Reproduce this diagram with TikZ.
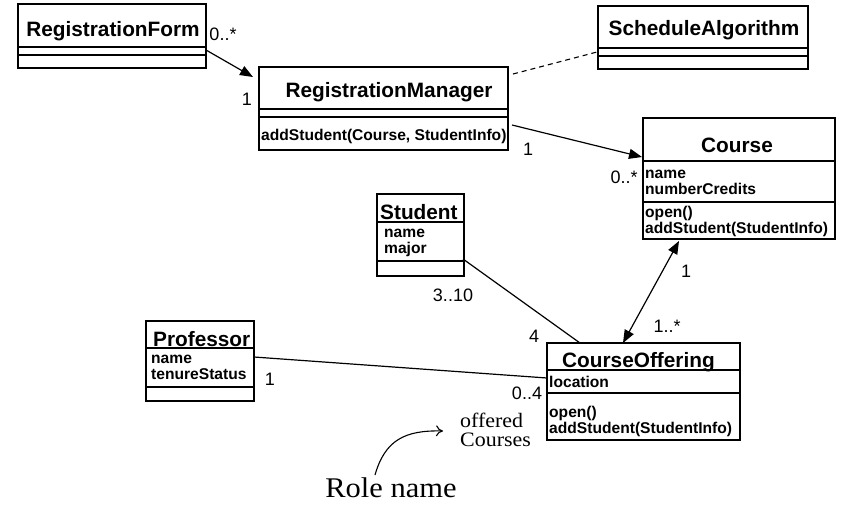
\documentclass[tikz,border=0pt]{standalone}
\usepackage{fontspec}
\setmainfont{Liberation Sans}
\newfontfamily\rmserif{Liberation Serif}
\usetikzlibrary{arrows.meta,calc}
\tikzset{
  cls/.style={draw, line width=1.4pt, inner sep=0pt, outer sep=0pt, anchor=north west},
  sep/.style={line width=1.3pt},
  clsname/.style={font=\fontsize{20.8}{24}\selectfont\bfseries, inner sep=0pt, anchor=base},
  member/.style={font=\fontsize{15.6}{17}\selectfont\bfseries, inner sep=0pt, anchor=base west},
  mult/.style={font=\fontsize{18}{20}\selectfont, inner sep=0pt, anchor=base},
  assoc/.style={line width=1.2pt},
  navarrow/.style={line width=1.2pt, -{Triangle[length=13pt,width=10pt]}},
  bothnav/.style={line width=1.2pt, {Triangle[length=13pt,width=10pt]}-{Triangle[length=13pt,width=10pt]}},
  depline/.style={line width=1.1pt, dash pattern=on 5pt off 4pt},
  serifnote/.style={font=\rmserif\fontsize{20.5}{21}\selectfont, inner sep=0pt, anchor=base west},
}
\begin{document}
\begin{tikzpicture}[x=1pt,y=-1pt]
\useasboundingbox (0,0) rectangle (845,504);

% RegistrationForm
\node[cls, minimum width=188pt, minimum height=64pt] (rf) at (18,4) {};
\draw[sep] (18,47) -- (206,47) (18,55) -- (206,55);
\node[clsname] (rfname) at (113,36) {RegistrationForm};

% RegistrationManager
\node[cls, minimum width=249pt, minimum height=83pt] (rm) at (259,67) {};
\draw[sep] (259,109) -- (508,109) (259,117) -- (508,117);
\node[clsname] (rmname) at (389,97) {RegistrationManager};
\node[member] (rmop) at (261,140) {addStudent(Course, StudentInfo)};

% ScheduleAlgorithm
\node[cls, minimum width=210pt, minimum height=63pt] (sa) at (598,6) {};
\draw[sep] (598,48) -- (808,48) (598,56) -- (808,56);
\node[clsname] (saname) at (704,35) {ScheduleAlgorithm};

% Course
\node[cls, minimum width=192pt, minimum height=121pt] (course) at (643,118) {};
\draw[sep] (643,161) -- (835,161) (643,202) -- (835,202);
\node[clsname] (coursename) at (737,152) {Course};
\node[member] (ca1) at (645,178) {name};
\node[member] (ca2) at (645,194) {numberCredits};
\node[member] (co1) at (645,217) {open()};
\node[member] (co2) at (645,233) {addStudent(StudentInfo)};

% Student
\node[cls, minimum width=87pt, minimum height=82pt] (student) at (377,194) {};
\draw[sep] (377,222) -- (464,222) (377,261) -- (464,261);
\node[clsname, anchor=base west] (studentname) at (380,219) {Student};
\node[member] (sa1) at (384,237) {name};
\node[member] (sa2) at (384,253) {major};

% Professor
\node[cls, minimum width=108pt, minimum height=80pt] (prof) at (146,321) {};
\draw[sep] (146,348) -- (254,348) (146,387) -- (254,387);
\node[clsname, anchor=base west] (profname) at (153,346) {Professor};
\node[member] (pa1) at (151,363) {name};
\node[member] (pa2) at (151,379) {tenureStatus};

% CourseOffering
\node[cls, minimum width=193pt, minimum height=97pt] (co) at (547,343) {};
\draw[sep] (547,370) -- (740,370) (547,393) -- (740,393);
\node[clsname, anchor=base west] (coname) at (562,367) {CourseOffering};
\node[member] (coa1) at (549,387) {location};
\node[member] (coo1) at (549,417) {open()};
\node[member] (coo2) at (549,433) {addStudent(StudentInfo)};

% connectors
\draw[navarrow] ($(rf.north east)+(0,46)$) -- ($(rm.north west)+(-6,10)$);
\draw[depline] ($(rm.north east)+(5,7)$) -- ($(sa.north west)+(-1,46)$);
\draw[navarrow] ($(rm.north east)+(4,58)$) -- ($(course.north west)+(-1,39)$);
\draw[assoc] ($(student.north east)+(-1,65)$) -- ($(co.north west)+(33,0)$);
\draw[bothnav] ($(course.south west)+(36,2)$) -- ($(co.north west)+(76,0)$);
\draw[assoc] ($(prof.north east)+(0,36)$) -- ($(co.north west)+(0,35)$);

% multiplicities
\node[mult] (m1) at (223,40) {0..*};
\node[mult] (m2) at (247,105) {1};
\node[mult] (m3) at (528,155) {1};
\node[mult] (m4) at (624,183) {0..*};
\node[mult] (m5) at (453,301) {3..10};
\node[mult] (m6) at (534,342) {4};
\node[mult] (m7) at (686,277) {1};
\node[mult] (m8) at (667,332) {1..*};
\node[mult] (m9) at (270,385) {1};
\node[mult] (m10) at (527,399) {0..4};

% role name annotation
\node[serifnote] (off1) at (460,427) {\scalebox{1.07}[1]{offered}};
\node[serifnote] (off2) at (460,446) {\scalebox{1.07}[1]{Courses}};
\node[font=\rmserif\fontsize{28.5}{30}\selectfont, inner sep=0pt, anchor=base] (role) at (391,497) {\scalebox{1.07}[1]{Role name}};
\coordinate (rs) at (375,475);
\coordinate (re) at (443,431);
\draw[line width=1.1pt, -{To[length=7pt,width=11pt]}] (rs) .. controls (385,440) and (405,430) .. (re);
\end{tikzpicture}
\end{document}
